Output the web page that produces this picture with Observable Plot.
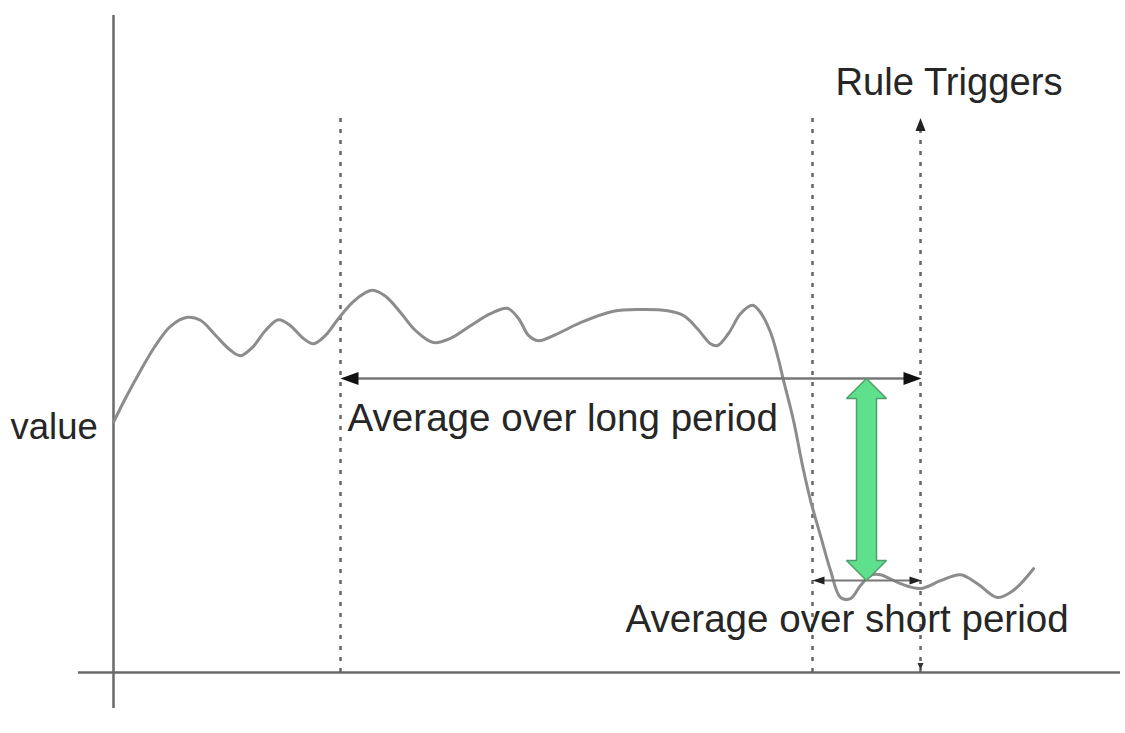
<!DOCTYPE html>
<html>
<head>
<meta charset="utf-8">
<script src="https://cdn.jsdelivr.net/npm/d3@7"></script>
<script src="https://cdn.jsdelivr.net/npm/@observablehq/plot@0.6"></script>
<style>
  html, body { margin: 0; padding: 0; background: #fff; }
  #chart svg { display: block; }
</style>
</head>
<body>
<div id="chart"></div>
<script>
// ---- data (time t, value v) ----
const curveT = [0, 1.2, 2.7, 4.2, 5.7, 7.4, 8.7, 10.2, 11.7, 12.7, 13.9, 15.2, 16.5, 17.7, 18.9, 20, 21.2, 22.5, 23.9, 25.2, 25.9, 27.2, 28.7, 30.2, 32, 33.7, 35.7, 37.7, 39.4, 40.5, 41.5, 42.5, 44.2, 46.7, 50, 52.7, 55.4, 57, 58.4, 59.7, 60.4, 61.5, 62.7, 63.9, 64.7, 65.7, 66.4, 67, 68, 68.9, 69.7, 70.7, 71.7, 72.7, 73.7, 74.7, 75.7, 76.7, 78.7, 80.7, 82.7, 84.7, 86.4, 88.4, 90, 92];
const curveV = [41.7, 45.7, 50.3, 54.5, 57.7, 59.2, 58.7, 56.2, 53.7, 52.8, 54.2, 57, 58.8, 57.8, 55.8, 54.8, 56.2, 59, 61.7, 63.3, 63.7, 62.7, 60, 57, 55, 55.7, 57.8, 59.8, 60.7, 59, 56.2, 55.3, 56.3, 58.3, 60.2, 60.5, 60.3, 59.5, 57.3, 54.8, 54.5, 56.5, 59.8, 61.2, 60, 56.7, 52.8, 48.7, 42, 34.5, 28.7, 22.8, 17, 12.5, 12.3, 14.5, 16.2, 16.3, 14.8, 14, 15.3, 16.3, 14.8, 12.5, 13.7, 17.3];

const longStart = 22.7, longEnd = 80.8;     // long averaging window
const shortStart = 69.9, shortEnd = 80.8;   // short averaging window
const triggerT = 80.7;                      // rule trigger time
const longAvg = 49, shortAvg = 15.33;       // the two averages
const diffT = 75.3;                         // where the difference is shown

const labelText = ["value", "Average over long period", "Average over short period", "Rule Triggers"];
const labelT = [-10.3, 23.4, 51.2, 72.2];
const labelV = [39, 40.3, 6.7, 96.2];
const labelSize = [36.5, 38.6, 38.6, 38.2];

// ---- derived tables ----
const curve = curveT.map((t, i) => ({t, v: curveV[i]}));
const labels = labelText.map((s, i) => ({s, t: labelT[i], v: labelV[i], size: labelSize[i]}));

// green double arrow outline built from the two averages
const hw = 2, sw = 1, hl = 3.33;
const arrTop = longAvg, arrBot = shortAvg;
const greenArrow = [
  [diffT, arrTop], [diffT + hw, arrTop - hl], [diffT + sw, arrTop - hl],
  [diffT + sw, arrBot + hl], [diffT + hw, arrBot + hl], [diffT, arrBot],
  [diffT - hw, arrBot + hl], [diffT - sw, arrBot + hl], [diffT - sw, arrTop - hl],
  [diffT - hw, arrTop - hl], [diffT, arrTop]
].map(([t, v]) => ({t, v}));

const head = { draw(ctx, l, r) { ctx.moveTo(0, 0); ctx.lineTo(-r, l); ctx.lineTo(r, l); ctx.closePath(); } };

const dashed = [
  {t: longStart, v1: 0, v2: 93.3},
  {t: shortStart, v1: 0, v2: 93.3},
  {t: triggerT, v1: 0, v2: 90.6}
];

const axisGray = "#6a6a6a";
const font = "Liberation Sans, Arial, Helvetica, sans-serif";

const chart = Plot.plot({
  width: 1125,
  height: 733,
  margin: 0,
  style: {background: "#fff", fontFamily: font},
  x: {type: "linear", domain: [0, 100], range: [113, 1113], axis: null},
  y: {type: "linear", domain: [0, 100], range: [672, 72], axis: null},
  marks: [
    // axes
    Plot.ruleX([0], {y1: -6, y2: 109.5, stroke: axisGray, strokeWidth: 2.5}),
    Plot.ruleY([0], {x1: -3.5, x2: 100.7, stroke: axisGray, strokeWidth: 2.5}),
    // dashed period markers
    Plot.ruleX(dashed, {x: "t", y1: "v1", y2: "v2", stroke: "#666", strokeWidth: 2.5, strokeDasharray: "4,7"}),
    Plot.vector([{t: triggerT, v: 92.4}], {x: "t", y: "v", length: 13, r: 5, rotate: 0, anchor: "start", shape: head, fill: "#222", stroke: "none"}),
    Plot.vector([{t: triggerT, v: 0.4}], {x: "t", y: "v", length: 7, r: 3, rotate: 180, anchor: "start", shape: head, fill: "#333", stroke: "none"}),
    // value curve
    Plot.line(curve, {x: "t", y: "v", curve: "catmull-rom", stroke: "#8c8c8c", strokeWidth: 3}),
    // long period arrow
    Plot.ruleY([longAvg], {x1: longStart + 1, x2: longEnd - 1, stroke: "#777", strokeWidth: 2.5}),
    Plot.vector([{t: longStart, v: longAvg, r: -90}, {t: longEnd, v: longAvg, r: 90}], {x: "t", y: "v", rotate: "r", length: 18, r: 6.5, anchor: "start", shape: head, fill: "#111", stroke: "none"}),
    // short period arrow
    Plot.ruleY([shortAvg], {x1: shortStart + 0.6, x2: shortEnd - 0.6, stroke: "#777", strokeWidth: 2}),
    Plot.vector([{t: shortStart, v: shortAvg, r: -90}, {t: shortEnd, v: shortAvg, r: 90}], {x: "t", y: "v", rotate: "r", length: 12, r: 4, anchor: "start", shape: head, fill: "#222", stroke: "none"}),
    // difference arrow
    Plot.line(greenArrow, {x: "t", y: "v", fill: "#5fe08c", stroke: "#4f9d68", strokeWidth: 1.5, strokeLinejoin: "miter"}),
    // labels
    Plot.text(labels, {x: "t", y: "v", text: "s", textAnchor: "start", lineAnchor: "bottom", fontSize: "size", fill: "#262626", fontFamily: font})
  ]
});
document.getElementById("chart").appendChild(chart);
</script>
</body>
</html>
